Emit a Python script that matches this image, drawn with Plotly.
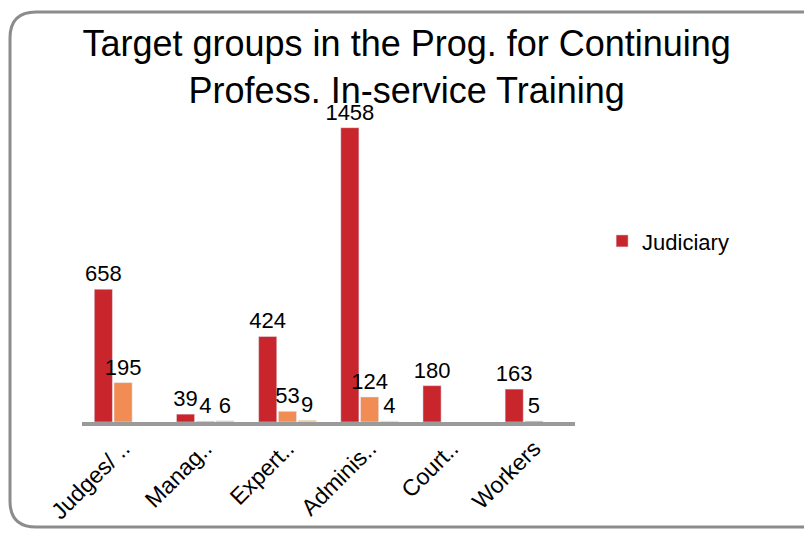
import plotly.graph_objects as go

# data
categories = ["Judges/ ..", "Manag..", "Expert..", "Adminis..", "Court..", "Workers"]
judiciary = [658, 39, 424, 1458, 180, 163]
series2 = [195, 4, 53, 124, None, 5]
series3 = [None, 6, 9, 4, None, None]

# page body has an 8px margin, so the figure is laid out 8px up/left
W, H = 812, 536
L, R, T, B = 74, 245, 91, 122


def px2paper(x, y):
    # pixel -> paper coordinates (for the outer frame)
    return (x - L) / (W - L - R), (H - B - y) / (H - T - B)


fig = go.Figure()
label_font = dict(family="Liberation Sans, Arial", size=22, color="black")
for vals, name, col, show in [(judiciary, "Judiciary", "#C8262C", True),
                              (series2, "Series 2", "#F28C55", False),
                              (series3, "Series 3", "#EBC77A", False)]:
    fig.add_trace(go.Bar(x=categories, y=vals, name=name, showlegend=show,
                         marker_color=col, text=vals,
                         textposition="outside", textfont=label_font,
                         constraintext="none", cliponaxis=False))

# rounded outer frame
r = 26
x0, y0, x1, y1 = 2, 4, 840, 519
pts = {
    "a": px2paper(x0 + r, y0), "b": px2paper(x1, y0), "c": px2paper(x1, y1),
    "d": px2paper(x0 + r, y1), "e": px2paper(x0, y1 - r), "f": px2paper(x0, y0 + r),
    "cb": px2paper(x0, y1), "ct": px2paper(x0, y0),
}
path = "M {a[0]},{a[1]} L {b[0]},{b[1]} L {c[0]},{c[1]} L {d[0]},{d[1]} " \
       "Q {cb[0]},{cb[1]} {e[0]},{e[1]} L {f[0]},{f[1]} Q {ct[0]},{ct[1]} {a[0]},{a[1]}".format(**pts)
fig.add_shape(type="path", path=path, xref="paper", yref="paper",
              line=dict(color="#8C8C8C", width=3))

fig.update_layout(
    width=W, height=H,
    margin=dict(l=L, r=R, t=T, b=B, autoexpand=False),
    paper_bgcolor="white", plot_bgcolor="white",
    barmode="group", bargap=0.28, bargroupgap=0.08,
    title=dict(text="Target groups in the Prog. for Continuing<br>Profess. In-service Training",
               x=0.491, xanchor="center", y=0.91, yanchor="top",
               font=dict(family="Liberation Sans Narrow, Arial Narrow, Liberation Sans",
                         size=36, color="black")),
    legend=dict(x=1.055, y=0.56, xanchor="left", yanchor="middle",
                font=dict(family="Liberation Sans, Arial", size=22, color="black"),
                bgcolor="rgba(0,0,0,0)"),
    showlegend=True,
)
fig.update_xaxes(showline=True, linecolor="#9A9A9A", linewidth=4, ticks="",
                 tickangle=-45, automargin=False,
                 tickfont=dict(family="Liberation Sans, Arial", size=23, color="black"),
                 showgrid=False)
fig.update_yaxes(range=[0, 1600], visible=False, showgrid=False)

fig.write_html("out.html")
